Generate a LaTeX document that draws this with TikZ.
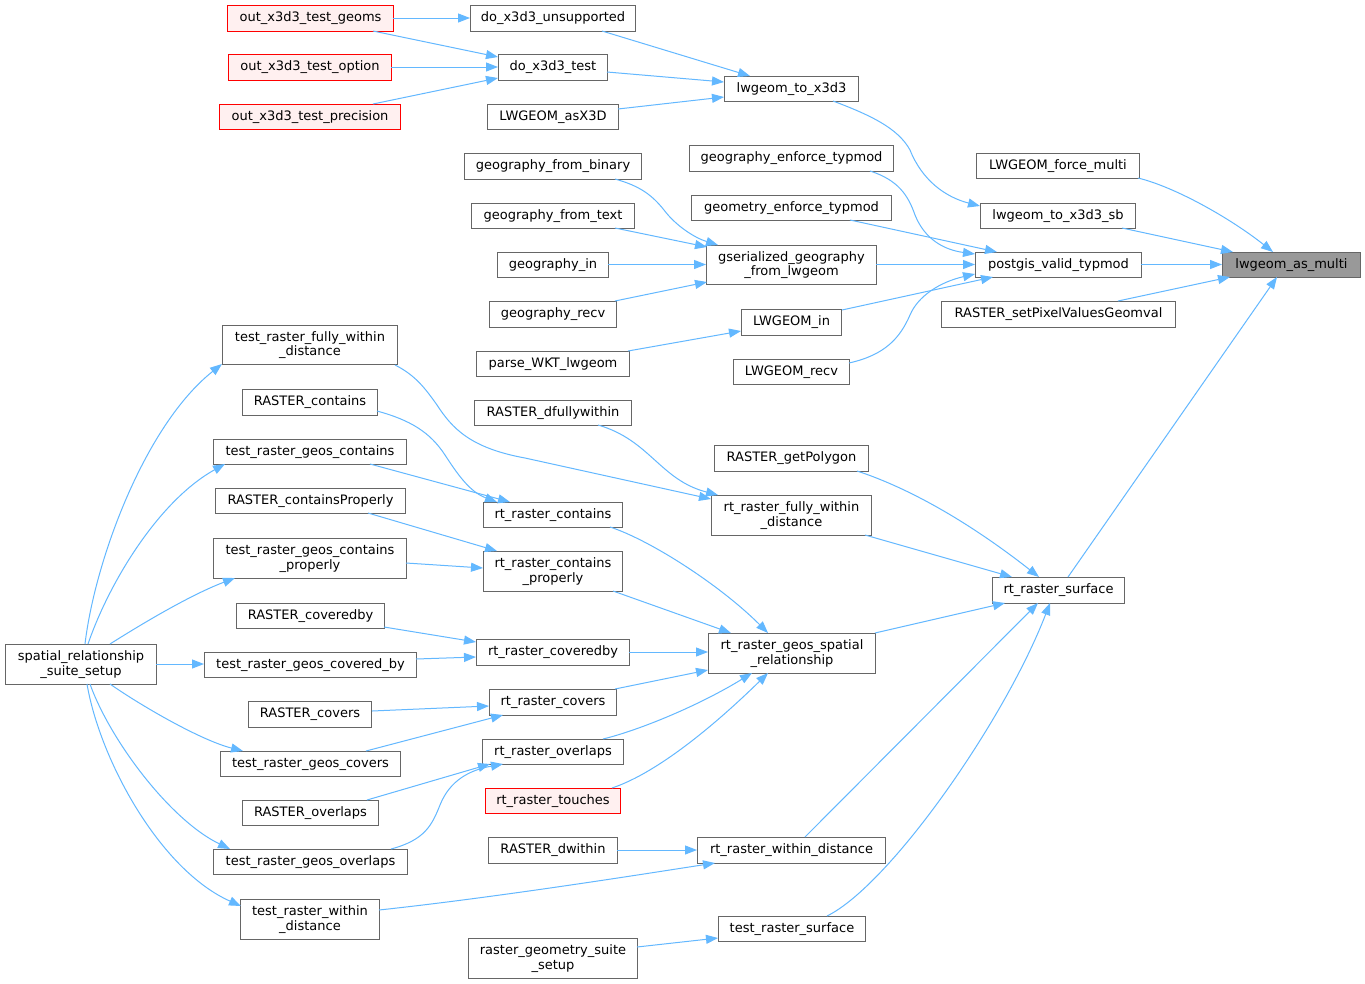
\documentclass[tikz,border=0pt]{standalone}
\usepackage{fontspec}
\setmainfont{DejaVu Sans}
\usetikzlibrary{arrows.meta}
\definecolor{edgec}{HTML}{63B8FF}
\definecolor{bordc}{HTML}{666666}
\definecolor{redfill}{HTML}{FFF0F0}
\definecolor{rootfill}{HTML}{999999}
\tikzset{
  box/.style={draw=bordc, fill=white, line width=1pt, inner sep=0pt, align=center,
    font=\fontsize{13}{14.7}\selectfont, text=black},
  redbox/.style={box, draw=red, fill=redfill},
  rootbox/.style={box, fill=rootfill},
  edge/.style={draw=edgec, line width=1pt, -{Triangle[length=12pt,width=9pt,fill=edgec]}}
}
\newcommand\N[6][]{\node[box,#1,minimum width=#4pt,minimum height=#5pt,anchor=north west] (#2) at (#3) {#6};}
\newcommand\E[6][]{\draw[edge,#1] ([shift={(#3)}]#2.north west) #4 ([shift={(#6)}]#5.north west);}
\begin{document}
\begin{tikzpicture}[x=1pt,y=-1pt]
\fill[white] (0,0) rectangle (1365,983);
\useasboundingbox (0,0) rectangle (1365,983);
% nodes
\N[redbox]{n1}{227,5}{166}{26}{out\_x3d3\_test\_geoms}
\N[redbox]{n2}{228,54}{163}{26}{out\_x3d3\_test\_option}
\N[redbox]{n3}{219,104}{181}{25}{out\_x3d3\_test\_precision}
\N{n4}{470,5}{165}{26}{do\_x3d3\_unsupported}
\N{n5}{498,54}{109}{26}{do\_x3d3\_test}
\N{n6}{487,104}{131}{25}{LWGEOM\_asX3D}
\N{n7}{724,76}{134}{25}{lwgeom\_to\_x3d3}
\N{n8}{464,153}{177}{26}{geography\_from\_binary}
\N{n9}{471,203}{163}{25}{geography\_from\_text}
\N{n10}{497,252}{111}{25}{geography\_in}
\N{n11}{489,301}{127}{26}{geography\_recv}
\N{n12}{706,245}{170}{39}{gserialized\_geography\\\_from\_lwgeom}
\N{n13}{689,145}{204}{26}{geography\_enforce\_typmod}
\N{n14}{691,195}{200}{25}{geometry\_enforce\_typmod}
\N{n15}{741,309}{100}{26}{LWGEOM\_in}
\N{n16}{733,359}{116}{25}{LWGEOM\_recv}
\N{n17}{476,351}{153}{25}{parse\_WKT\_lwgeom}
\N{n18}{976,153}{163}{25}{LWGEOM\_force\_multi}
\N{n19}{980,203}{155}{25}{lwgeom\_to\_x3d3\_sb}
\N{n20}{975,252}{166}{25}{postgis\_valid\_typmod}
\N[rootbox]{n21}{1222,252}{138}{25}{lwgeom\_as\_multi}
\N{n22}{941,301}{234}{26}{RASTER\_setPixelValuesGeomval}
\N{n23}{222,325}{175}{39}{test\_raster\_fully\_within\\\_distance}
\N{n24}{242,389}{135}{26}{RASTER\_contains}
\N{n25}{213,439}{193}{25}{test\_raster\_geos\_contains}
\N{n26}{215,488}{190}{25}{RASTER\_containsProperly}
\N{n27}{213,538}{193}{40}{test\_raster\_geos\_contains\\\_properly}
\N{n28}{236,603}{148}{25}{RASTER\_coveredby}
\N{n29}{5,644}{151}{40}{spatial\_relationship\\\_suite\_setup}
\N{n30}{204,652}{212}{25}{test\_raster\_geos\_covered\_by}
\N{n31}{248,701}{123}{26}{RASTER\_covers}
\N{n32}{220,751}{180}{25}{test\_raster\_geos\_covers}
\N{n33}{242,800}{136}{25}{RASTER\_overlaps}
\N{n34}{213,849}{194}{25}{test\_raster\_geos\_overlaps}
\N{n35}{240,899}{139}{40}{test\_raster\_within\\\_distance}
\N{n36}{474,400}{157}{25}{RASTER\_dfullywithin}
\N{n37}{714,445}{154}{26}{RASTER\_getPolygon}
\N{n38}{711,495}{160}{40}{rt\_raster\_fully\_within\\\_distance}
\N{n39}{483,502}{139}{25}{rt\_raster\_contains}
\N{n40}{483,551}{139}{40}{rt\_raster\_contains\\\_properly}
\N{n41}{708,633}{167}{40}{rt\_raster\_geos\_spatial\\\_relationship}
\N{n42}{476,639}{153}{26}{rt\_raster\_coveredby}
\N{n43}{489,689}{127}{26}{rt\_raster\_covers}
\N{n44}{482,739}{141}{25}{rt\_raster\_overlaps}
\N[redbox]{n45}{485,788}{135}{25}{rt\_raster\_touches}
\N{n46}{488,837}{129}{26}{RASTER\_dwithin}
\N{n47}{697,837}{188}{26}{rt\_raster\_within\_distance}
\N{n48}{718,916}{147}{25}{test\_raster\_surface}
\N{n49}{468,938}{169}{40}{raster\_geometry\_suite\\\_setup}
\N{n50}{992,577}{132}{26}{rt\_raster\_surface}
% edges
\E{n1}{166,13}{--}{n4}{0,13}
\E{n1}{146,26}{--}{n5}{0,3}
\E{n2}{163,13}{--}{n5}{0,13}
\E{n3}{154,0}{--}{n5}{0,24}
\E{n4}{132,26}{--}{n7}{26,0}
\E{n5}{109,18}{--}{n7}{0,6}
\E{n6}{131,5}{--}{n7}{0,21}
\E{n7}{109,25}{.. controls (870,115) and (898,128) .. (910,150) .. controls (922,180) and (945,197) ..}{n19}{0,3}
\E{n8}{151,26}{.. controls (640,186) and (652,195) .. (664,210) .. controls (676,226) and (695,238) ..}{n12}{12,0}
\E{n9}{144,25}{--}{n12}{1,2}
\E{n10}{111,12.5}{--}{n12}{0,19.5}
\E{n11}{126,0}{--}{n12}{1,37}
\E{n12}{170,19.5}{--}{n20}{0,12.5}
\E{n13}{181,26}{.. controls (898,180) and (908,195) .. (915,215) .. controls (925,240) and (945,250) ..}{n20}{0,2}
\E{n14}{159,25}{--}{n20}{22,0}
\E{n15}{101,1}{--}{n20}{18,25}
\E{n16}{116,4}{.. controls (885,355) and (900,338) .. (910,315) .. controls (918,296) and (940,282) ..}{n20}{0,22}
\E{n17}{152,0}{--}{n15}{0,22}
\E{n18}{162,25}{.. controls (1175,187) and (1230,218) ..}{n21}{51,0}
\E{n19}{142,25}{--}{n21}{11,0}
\E{n20}{166,12.5}{--}{n21}{0,12.5}
\E{n22}{177,0}{--}{n21}{8,25}
\E{n50}{76,0}{--}{n21}{55,25}
\E{n37}{143,26}{.. controls (900,485) and (960,515) ..}{n50}{47,0}
\E{n38}{154,40}{--}{n50}{20,0}
\E{n41}{167,0}{--}{n50}{13,26}
\E{n47}{108,0}{--}{n50}{46,26}
\E{n48}{109,0}{.. controls (890,885) and (1005,720) ..}{n50}{58,26}
\E{n36}{124,25}{.. controls (650,440) and (660,480) ..}{n38}{7,0}
\E{n23}{173,40}{.. controls (415,375) and (425,388) .. (437,405) .. controls (452,428) and (470,448) .. (525,458) --}{n38}{0,4}
\E{n24}{135,22}{.. controls (410,420) and (430,432) .. (445,455) .. controls (458,475) and (470,492) ..}{n39}{14,0}
\E{n25}{157,25}{--}{n39}{27,0}
\E{n26}{153,25}{--}{n40}{14,0}
\E{n27}{193,25}{--}{n40}{0,17}
\E{n28}{148,24}{--}{n42}{0,3}
\E{n30}{212,7}{--}{n42}{0,18}
\E{n31}{124,10}{--}{n43}{0,17}
\E{n32}{146,0}{--}{n43}{14,26}
\E{n33}{125,0}{--}{n44}{8,25}
\E{n34}{178,0}{.. controls (425,840) and (432,825) .. (440,805) .. controls (450,780) and (470,770) ..}{n44}{21,25}
\E{n39}{127,25}{.. controls (650,540) and (720,585) ..}{n41}{60,0}
\E{n40}{130,40}{--}{n41}{23,0}
\E{n42}{153,13}{--}{n41}{0,19}
\E{n43}{126,0}{--}{n41}{0,37}
\E{n44}{121,0}{.. controls (640,730) and (700,705) ..}{n41}{44,40}
\E{n45}{127,0}{.. controls (660,772) and (720,720) ..}{n41}{60,40}
\E{n46}{129,13}{--}{n47}{0,13}
\E{n35}{139,11}{.. controls (500,897) and (650,873) ..}{n47}{18,26}
\E{n49}{169,9}{--}{n48}{0,22}
\E{n29}{80,0}{.. controls (95,560) and (145,425) ..}{n23}{0,39}
\E{n29}{83,0}{.. controls (110,580) and (160,500) ..}{n25}{12,25}
\E{n29}{105,0}{.. controls (140,625) and (190,595) ..}{n27}{22,40}
\E{n29}{151,20}{--}{n30}{0,12}
\E{n29}{105,40}{.. controls (140,705) and (200,740) ..}{n32}{23,0}
\E{n29}{85,40}{.. controls (110,740) and (170,820) ..}{n34}{17,0}
\E{n29}{82,40}{.. controls (100,760) and (160,870) ..}{n35}{1,7}
\end{tikzpicture}
\end{document}
